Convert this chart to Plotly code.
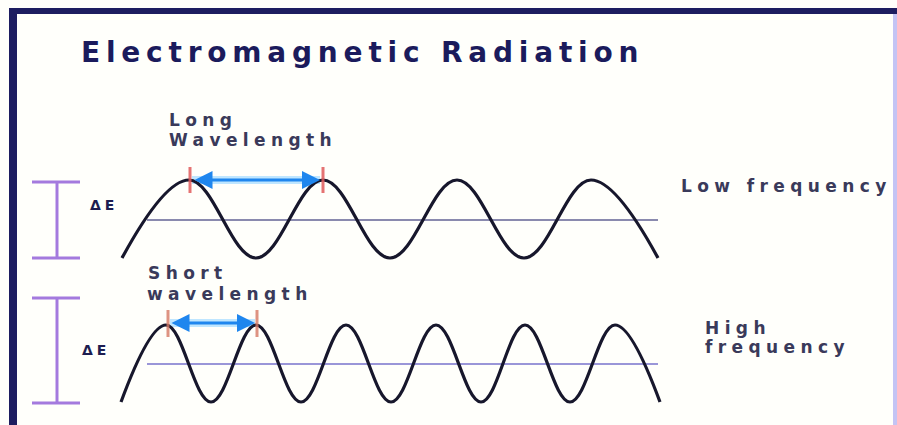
import plotly.graph_objects as go

# ---- data (diagram coordinates) ----
low_wave_x = [122, 189, 256, 323, 390, 457, 524, 591, 658]
low_wave_y = [258, 180, 258, 180, 258, 180, 258, 180, 258]
high_wave_x = [121, 166, 211, 256, 301, 346, 391, 436, 481, 525, 570, 615, 660]
high_wave_y = [402, 325, 402, 325, 402, 325, 402, 325, 402, 325, 402, 325, 402]
baselines_y = [220, 364]
baseline_x = [147, 658]
long_marks_x = [190, 323]
short_marks_x = [168, 257]
energy_bars = [(182, 258), (298, 403)]

title = "Electromagnetic Radiation"
labels = [
    ("Long", 167, 120), ("Wavelength", 167, 140),
    ("Low frequency", 679, 186),
    ("Short", 146, 273), ("wavelength", 145, 294),
    ("High", 703, 328), ("frequency", 703, 347),
]

W, H = 897, 425

fig = go.Figure()

shapes = []
# frame
shapes.append(dict(type="line", x0=13, x1=13, y0=8, y1=H, line=dict(color="#1d1d60", width=8)))
shapes.append(dict(type="line", x0=9, x1=W, y0=11, y1=11, line=dict(color="#1d1d60", width=6)))
shapes.append(dict(type="line", x0=895, x1=895, y0=14, y1=H, line=dict(color="#c4c4f4", width=4)))

# baselines
for by, col in zip(baselines_y, ["#8a8aae", "#9a96d8"]):
    shapes.append(dict(type="line", x0=baseline_x[0], x1=baseline_x[1], y0=by, y1=by,
                       line=dict(color=col, width=2), layer="below"))

# energy I-beams
for (y0, y1) in energy_bars:
    shapes.append(dict(type="line", x0=57, x1=57, y0=y0, y1=y1, line=dict(color="#a47ade", width=3)))
    for yy in (y0, y1):
        shapes.append(dict(type="line", x0=32, x1=80, y0=yy, y1=yy, line=dict(color="#a47ade", width=3)))

# arrow glows
shapes.append(dict(type="line", x0=192, x1=320, y0=180, y1=180, line=dict(color="#bfe6ff", width=8), layer="below"))
shapes.append(dict(type="line", x0=170, x1=255, y0=323, y1=323, line=dict(color="#bfe6ff", width=8), layer="below"))

fig.add_trace(go.Scatter(x=low_wave_x, y=low_wave_y, mode="lines",
                         line=dict(color="#17172c", width=3.2, shape="spline", smoothing=1.1),
                         hoverinfo="skip"))
fig.add_trace(go.Scatter(x=high_wave_x, y=high_wave_y, mode="lines",
                         line=dict(color="#17172c", width=3.2, shape="spline", smoothing=1.1),
                         hoverinfo="skip"))

# red wavelength marks (drawn above waves)
for mx in long_marks_x:
    shapes.append(dict(type="line", x0=mx, x1=mx, y0=167, y1=193,
                       line=dict(color="rgba(224,90,90,0.85)", width=3), layer="above"))
for mx in short_marks_x:
    shapes.append(dict(type="line", x0=mx, x1=mx, y0=310, y1=337,
                       line=dict(color="rgba(214,120,100,0.8)", width=3), layer="above"))

annotations = []
# double arrows
annotations.append(dict(x=320, y=180, ax=193, ay=180, xref="x", yref="y", axref="x", ayref="y",
                        text="", showarrow=True, arrowhead=2, arrowsize=1.2, arrowwidth=3,
                        arrowside="end+start", arrowcolor="#1f86ee"))
annotations.append(dict(x=255, y=323, ax=170, ay=323, xref="x", yref="y", axref="x", ayref="y",
                        text="", showarrow=True, arrowhead=2, arrowsize=1.2, arrowwidth=3,
                        arrowside="end+start", arrowcolor="#1f86ee"))

# title
annotations.append(dict(x=79, y=52, xref="x", yref="y", xanchor="left", yanchor="middle",
                        showarrow=False,
                        text="<span style='letter-spacing:5.8px'><b>%s</b></span>" % title,
                        font=dict(family="DejaVu Sans", size=28, color="#1b1b5c")))

for txt, lx, ly in labels:
    annotations.append(dict(x=lx, y=ly, xref="x", yref="y", xanchor="left", yanchor="middle",
                            showarrow=False,
                            text="<span style='letter-spacing:5.4px'><b>%s</b></span>" % txt,
                            font=dict(family="DejaVu Sans", size=17, color="#3a3a5a")))

for ey, ex in ((205, 88), (350, 80)):
    annotations.append(dict(x=ex, y=ey, xref="x", yref="y", xanchor="left", yanchor="middle",
                            showarrow=False,
                            text="<span style='letter-spacing:4px'><b>ΔE</b></span>",
                            font=dict(family="DejaVu Sans", size=14, color="#1d1d50")))

fig.update_layout(
    width=W, height=H,
    margin=dict(l=0, r=0, t=0, b=0),
    paper_bgcolor="#fffffb", plot_bgcolor="#fffffb",
    showlegend=False,
    shapes=shapes, annotations=annotations,
    xaxis=dict(range=[0, W], visible=False, fixedrange=True),
    yaxis=dict(range=[H, 0], visible=False, fixedrange=True),
)

# remove the default page margin so the figure fills the 897x425 window
fig.write_html("out.html",
               config={"displayModeBar": False, "staticPlot": True},
               post_script="document.body.style.margin='0';document.body.style.overflow='hidden';")
